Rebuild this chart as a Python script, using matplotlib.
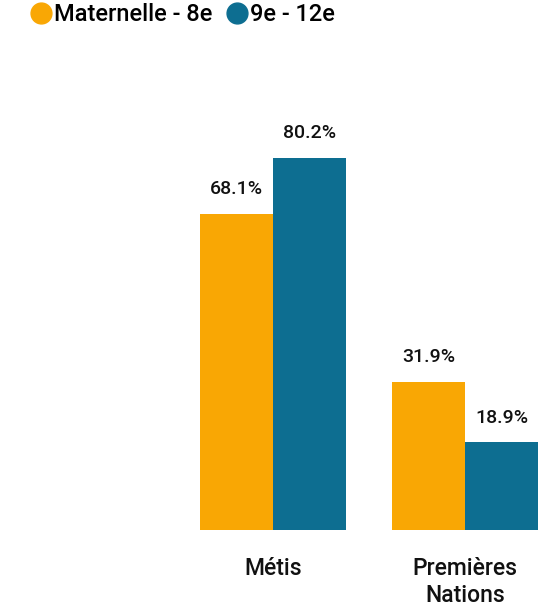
import matplotlib
matplotlib.use("Agg")
import matplotlib.pyplot as plt
from matplotlib.lines import Line2D
import numpy as np

categories = ["Métis", "Premières\nNations"]
series_names = ["Maternelle - 8e", "9e - 12e"]
mat_8 = [68.1, 31.9]
g9_12 = [80.2, 18.9]
colors = ["#F9A704", "#0D6E91"]

plt.rcParams['font.family'] = ['Roboto', 'DejaVu Sans']
plt.rcParams['font.weight'] = 500

W, H = 538, 606
fig = plt.figure(figsize=(W / 100, H / 100), dpi=100)

base_px = 529.5
top_px = 100
px_per_unit = 192.0
c0_px = 273.0
ax = fig.add_axes([0, (H - base_px) / H, 1, (base_px - top_px) / H])
ax.set_xlim(-c0_px / px_per_unit, (W - c0_px) / px_per_unit)
ax.set_ylim(0, (base_px - top_px) / 4.638)

x = np.arange(len(categories))
bw = 73 / px_per_unit
for i, (vals, col) in enumerate(zip([mat_8, g9_12], colors)):
    pos = x + (i - 0.5) * bw
    bars = ax.bar(pos, vals, width=bw, color=col, align='center', linewidth=0)
    for b, v in zip(bars, vals):
        ax.annotate(f"{v:.1f}%", (b.get_x() + b.get_width() / 2, v),
                    xytext=(0, 11), textcoords='offset points',
                    ha='center', va='bottom', fontsize=14, color='#111111',
                    fontweight=500)

ax.set_xticks(x)
ax.set_xticklabels(categories, fontsize=16.5, color='#111111', linespacing=1.2,
                   fontweight=500)
ax.tick_params(axis='x', length=0, pad=20)
ax.set_yticks([])
for s in ax.spines.values():
    s.set_visible(False)

handles = [Line2D([0], [0], marker='o', linestyle='', markersize=15,
                  markerfacecolor=c, markeredgecolor=c) for c in colors]
fig.legend(handles, series_names, loc='upper left', bbox_to_anchor=(28 / W, 1 - 3 / H),
           frameon=False, ncol=2, fontsize=17, handletextpad=0.0,
           columnspacing=0.5, handlelength=1.1, borderpad=0, borderaxespad=0,
           prop={'size': 17, 'weight': 500})

fig.savefig("out.png", dpi=100)
